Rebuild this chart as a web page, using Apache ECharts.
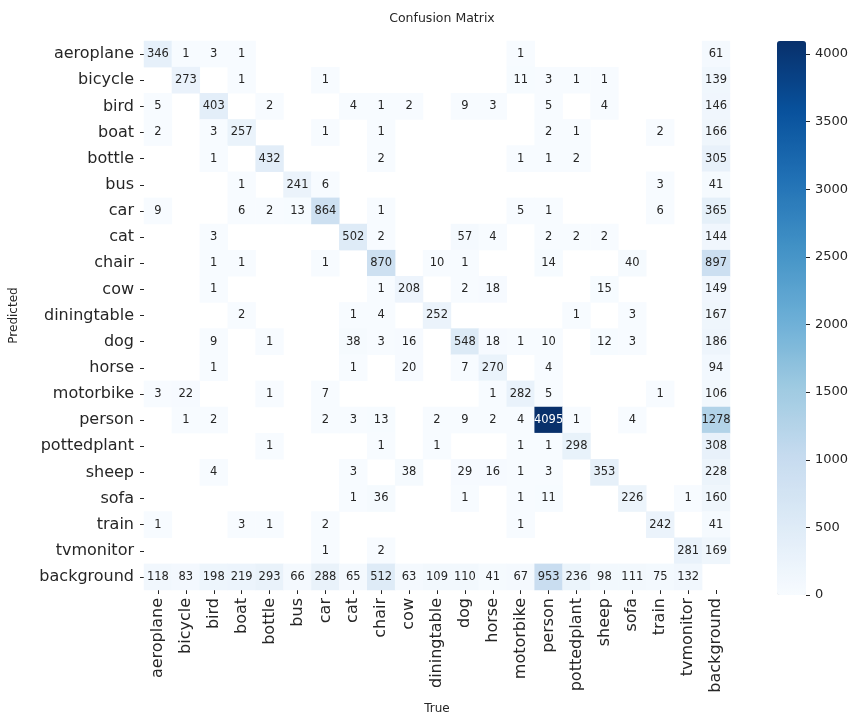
<!DOCTYPE html>
<html>
<head>
<meta charset="utf-8">
<title>Confusion Matrix</title>
<script src="https://cdn.jsdelivr.net/npm/echarts@6/dist/echarts.min.js"></script>
<style>
  html, body { margin: 0; padding: 0; background: #ffffff; }
  #chart { width: 855px; height: 720px; }
</style>
</head>
<body>
<div id="chart"></div>
<script>
// Class names shared by both axes (true class on x, predicted class on y)
const classNames = [
  'aeroplane', 'bicycle', 'bird', 'boat', 'bottle', 'bus', 'car', 'cat',
  'chair', 'cow', 'diningtable', 'dog', 'horse', 'motorbike', 'person',
  'pottedplant', 'sheep', 'sofa', 'train', 'tvmonitor', 'background'
];

// Counts: one row per predicted class, one column per true class (0 = empty cell)
const counts = [
  [346, 1, 3, 1, 0, 0, 0, 0, 0, 0, 0, 0, 0, 1, 0, 0, 0, 0, 0, 0, 61],
  [0, 273, 0, 1, 0, 0, 1, 0, 0, 0, 0, 0, 0, 11, 3, 1, 1, 0, 0, 0, 139],
  [5, 0, 403, 0, 2, 0, 0, 4, 1, 2, 0, 9, 3, 0, 5, 0, 4, 0, 0, 0, 146],
  [2, 0, 3, 257, 0, 0, 1, 0, 1, 0, 0, 0, 0, 0, 2, 1, 0, 0, 2, 0, 166],
  [0, 0, 1, 0, 432, 0, 0, 0, 2, 0, 0, 0, 0, 1, 1, 2, 0, 0, 0, 0, 305],
  [0, 0, 0, 1, 0, 241, 6, 0, 0, 0, 0, 0, 0, 0, 0, 0, 0, 0, 3, 0, 41],
  [9, 0, 0, 6, 2, 13, 864, 0, 1, 0, 0, 0, 0, 5, 1, 0, 0, 0, 6, 0, 365],
  [0, 0, 3, 0, 0, 0, 0, 502, 2, 0, 0, 57, 4, 0, 2, 2, 2, 0, 0, 0, 144],
  [0, 0, 1, 1, 0, 0, 1, 0, 870, 0, 10, 1, 0, 0, 14, 0, 0, 40, 0, 0, 897],
  [0, 0, 1, 0, 0, 0, 0, 0, 1, 208, 0, 2, 18, 0, 0, 0, 15, 0, 0, 0, 149],
  [0, 0, 0, 2, 0, 0, 0, 1, 4, 0, 252, 0, 0, 0, 0, 1, 0, 3, 0, 0, 167],
  [0, 0, 9, 0, 1, 0, 0, 38, 3, 16, 0, 548, 18, 1, 10, 0, 12, 3, 0, 0, 186],
  [0, 0, 1, 0, 0, 0, 0, 1, 0, 20, 0, 7, 270, 0, 4, 0, 0, 0, 0, 0, 94],
  [3, 22, 0, 0, 1, 0, 7, 0, 0, 0, 0, 0, 1, 282, 5, 0, 0, 0, 1, 0, 106],
  [0, 1, 2, 0, 0, 0, 2, 3, 13, 0, 2, 9, 2, 4, 4095, 1, 0, 4, 0, 0, 1278],
  [0, 0, 0, 0, 1, 0, 0, 0, 1, 0, 1, 0, 0, 1, 1, 298, 0, 0, 0, 0, 308],
  [0, 0, 4, 0, 0, 0, 0, 3, 0, 38, 0, 29, 16, 1, 3, 0, 353, 0, 0, 0, 228],
  [0, 0, 0, 0, 0, 0, 0, 1, 36, 0, 0, 1, 0, 1, 11, 0, 0, 226, 0, 1, 160],
  [1, 0, 0, 3, 1, 0, 2, 0, 0, 0, 0, 0, 0, 1, 0, 0, 0, 0, 242, 0, 41],
  [0, 0, 0, 0, 0, 0, 1, 0, 2, 0, 0, 0, 0, 0, 0, 0, 0, 0, 0, 281, 169],
  [118, 83, 198, 219, 293, 66, 288, 65, 512, 63, 109, 110, 41, 67, 953, 236, 98, 111, 75, 132, 0]
];

// Colour bar range and tick values
const colorMin = 0;
const colorMax = 4095;
const colorStep = 500;
const colorTicks = [0, 500, 1000, 1500, 2000, 2500, 3000, 3500, 4000];

// Sequential blue palette, light to dark
const blues = ['#f7fbff', '#deebf7', '#c6dbef', '#9ecae1', '#6baed6',
               '#4292c6', '#2171b5', '#08519c', '#08306b'];

const FONT = 'DejaVu Sans';
const INK = '#262626';

// Colour bar box
const BAR_LEFT = 777;
const BAR_TOP = 41;
const BAR_W = 29;
const BAR_H = 554;

// Non-empty cells only; dark cells get white annotation text
const cells = [];
counts.forEach(function (row, r) {
  row.forEach(function (v, c) {
    if (v > 0) {
      const item = { value: [c, r, v] };
      if (v > colorMax * 0.6) item.label = { color: '#ffffff' };
      cells.push(item);
    }
  });
});

const chart = echarts.init(document.getElementById('chart'), null, { renderer: 'canvas' });

chart.setOption({
  backgroundColor: '#ffffff',
  animation: false,
  title: {
    text: 'Confusion Matrix',
    left: 437,
    top: 7,
    textAlign: 'center',
    textStyle: { fontFamily: FONT, fontSize: 12.5, fontWeight: 'normal', color: INK }
  },
  grid: [
    { left: 143, top: 41, width: 587, height: 554 },
    // scale for the colour bar
    { left: BAR_LEFT, top: BAR_TOP, width: BAR_W, height: BAR_H }
  ],
  xAxis: [
    {
      gridIndex: 0,
      type: 'category',
      data: classNames,
      name: 'True',
      nameLocation: 'middle',
      nameGap: 113,
      nameTextStyle: { fontFamily: FONT, fontSize: 12, color: INK },
      axisLine: { show: false },
      axisTick: { show: true, alignWithLabel: true, length: 4, lineStyle: { color: INK } },
      axisLabel: { interval: 0, rotate: 90, margin: 8, fontFamily: FONT, fontSize: 16, color: INK },
      splitLine: { show: false }
    },
    { gridIndex: 1, type: 'category', show: false, data: ['bar'] }
  ],
  yAxis: [
    {
      gridIndex: 0,
      type: 'category',
      data: classNames,
      inverse: true,
      name: 'Predicted',
      nameLocation: 'middle',
      nameGap: 124,
      nameRotate: 90,
      nameTextStyle: { fontFamily: FONT, fontSize: 12, color: INK },
      axisLine: { show: false },
      axisTick: { show: true, alignWithLabel: true, length: 4, lineStyle: { color: INK } },
      axisLabel: { interval: 0, margin: 10, fontFamily: FONT, fontSize: 16, color: INK },
      splitLine: { show: false }
    },
    {
      gridIndex: 1,
      type: 'value',
      position: 'right',
      min: colorMin,
      max: colorMax,
      interval: colorStep,
      axisLine: { show: false, onZero: false },
      axisTick: { show: false },
      axisLabel: {
        margin: 9,
        fontFamily: FONT,
        fontSize: 13,
        color: INK,
        showMaxLabel: false,
        formatter: function (v) { return v % colorStep === 0 ? String(v) : ''; }
      },
      splitLine: { show: false }
    }
  ],
  visualMap: {
    type: 'continuous',
    seriesIndex: 0,
    min: colorMin,
    max: colorMax,
    calculable: false,
    hoverLink: false,
    orient: 'vertical',
    left: BAR_LEFT,
    top: BAR_TOP,
    padding: 0,
    itemWidth: BAR_W,
    itemHeight: BAR_H,
    text: null,
    inRange: { color: blues }
  },
  series: [
    {
      type: 'heatmap',
      xAxisIndex: 0,
      yAxisIndex: 0,
      data: cells,
      label: {
        show: true,
        formatter: function (p) { return String(p.value[2]); },
        fontFamily: FONT,
        fontSize: 11.5,
        color: INK
      },
      itemStyle: { borderWidth: 0 },
      emphasis: { disabled: true }
    }
  ]
});

// Tick marks on the right edge of the colour bar, placed through the bar's value scale
const tickX = BAR_LEFT + BAR_W;
chart.setOption({
  graphic: colorTicks.map(function (v) {
    const y = Math.round(chart.convertToPixel({ yAxisIndex: 1 }, v)) + 0.5;
    return {
      type: 'line',
      z: 100,
      silent: true,
      shape: { x1: tickX, y1: y, x2: tickX + 4, y2: y },
      style: { stroke: INK, lineWidth: 1 }
    };
  })
});
</script>
</body>
</html>
